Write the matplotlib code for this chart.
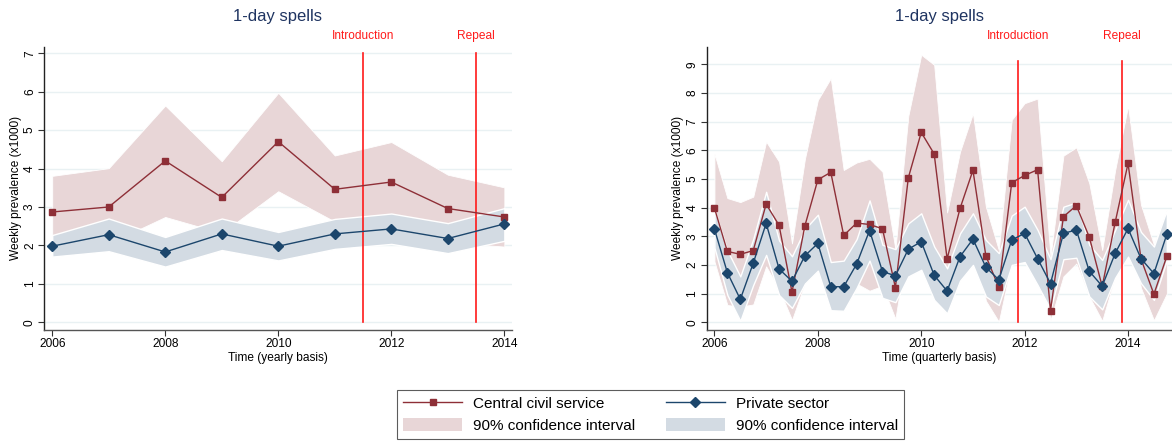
import matplotlib
matplotlib.use("Agg")
import matplotlib.pyplot as plt
from matplotlib.lines import Line2D
from matplotlib.patches import Patch
from matplotlib.transforms import blended_transform_factory

plt.rcParams['font.family'] = ['Liberation Sans', 'DejaVu Sans']

# ---------------- data: yearly panel ----------------
years = [2006, 2007, 2008, 2009, 2010, 2011, 2012, 2013, 2014]
civil_y = [2.87, 3.00, 4.20, 3.25, 4.70, 3.46, 3.65, 2.96, 2.74]
civil_y_hi = [3.81, 4.01, 5.64, 4.19, 5.97, 4.34, 4.69, 3.84, 3.51]
civil_y_lo = [1.93, 2.05, 2.74, 2.32, 3.41, 2.62, 2.61, 2.08, 1.97]
priv_y = [1.98, 2.28, 1.83, 2.30, 1.98, 2.30, 2.43, 2.18, 2.56]
priv_y_hi = [2.27, 2.70, 2.22, 2.70, 2.35, 2.69, 2.83, 2.58, 2.97]
priv_y_lo = [1.71, 1.85, 1.45, 1.88, 1.61, 1.91, 2.04, 1.80, 2.12]

# ---------------- data: quarterly panel ----------------
quarters = [2006.00, 2006.25, 2006.50, 2006.75, 2007.00, 2007.25, 2007.50, 2007.75,
            2008.00, 2008.25, 2008.50, 2008.75, 2009.00, 2009.25, 2009.50, 2009.75,
            2010.00, 2010.25, 2010.50, 2010.75, 2011.00, 2011.25, 2011.50, 2011.75,
            2012.00, 2012.25, 2012.50, 2012.75, 2013.00, 2013.25, 2013.50, 2013.75,
            2014.00, 2014.25, 2014.50, 2014.75]
civil_q = [3.98, 2.47, 2.37, 2.50, 4.12, 3.38, 1.05, 3.37,
           4.97, 5.23, 3.03, 3.46, 3.41, 3.26, 1.21, 5.04,
           6.62, 5.87, 2.21, 3.97, 5.30, 2.31, 1.22, 4.87,
           5.12, 5.32, 0.40, 3.68, 4.07, 2.97, 1.25, 3.48,
           5.54, 2.21, 0.98, 2.30]
civil_q_hi = [5.88, 4.33, 4.19, 4.38, 6.30, 5.60, 2.75, 5.70,
              7.75, 8.51, 5.31, 5.57, 5.70, 5.25, 2.55, 7.20,
              9.33, 8.98, 3.83, 5.95, 7.29, 4.03, 2.52, 7.06,
              7.64, 7.80, 2.30, 5.81, 6.10, 4.85, 2.52, 5.30,
              7.55, 4.10, 2.70, 3.92]
civil_q_lo = [2.12, 0.60, 0.55, 0.62, 1.95, 1.16, 0.08, 1.36,
              2.30, 1.90, 0.90, 1.35, 1.10, 1.27, 0.12, 2.90,
              3.70, 2.60, 0.60, 2.00, 3.30, 0.75, 0.02, 2.10,
              2.50, 2.40, 0.08, 1.60, 2.05, 0.90, 0.05, 1.60,
              3.50, 1.20, 0.07, 1.00]
priv_q = [3.25, 1.73, 0.80, 2.06, 3.45, 1.86, 1.43, 2.32,
          2.75, 1.24, 1.24, 2.03, 3.20, 1.77, 1.62, 2.55,
          2.81, 1.64, 1.09, 2.29, 2.90, 1.92, 1.48, 2.87,
          3.10, 2.22, 1.35, 3.10, 3.22, 1.78, 1.26, 2.40,
          3.27, 2.22, 1.70, 3.07]
priv_q_hi = [3.95, 2.50, 1.60, 2.90, 4.55, 2.85, 2.30, 3.25,
             3.75, 2.10, 2.15, 2.90, 4.25, 2.70, 2.55, 3.45,
             3.80, 2.64, 1.88, 3.10, 3.80, 2.87, 2.41, 3.72,
             4.03, 3.22, 2.20, 4.03, 4.18, 2.70, 2.17, 3.22,
             4.27, 3.15, 2.64, 3.92]
priv_q_lo = [2.60, 0.95, 0.05, 1.30, 2.35, 0.95, 0.50, 1.35,
             1.80, 0.42, 0.40, 1.20, 2.15, 0.85, 0.70, 1.60,
             1.83, 0.78, 0.31, 1.45, 2.00, 0.90, 0.60, 2.00,
             2.10, 1.30, 0.45, 2.20, 2.25, 0.90, 0.45, 1.55,
             2.29, 1.36, 0.78, 2.17]

policy_yearly = [2011.5, 2013.5]
policy_quarterly = [2011.875, 2013.875]
policy_labels = ["Introduction", "Repeal"]

# ---------------- style ----------------
RED = '#8e2f37'
PINK = '#e8d6d7'
BLUE = '#1c466c'
BLUEFILL = '#d3dbe3'
GRID = '#e9f1f3'
TITLE = '#1f3461'
VRED = '#ff1a1a'
FS = 8.6

fig = plt.figure(figsize=(11.72, 4.41), dpi=100)
ax1 = fig.add_axes([44.3 / 1172, 111 / 441, 467.4 / 1172, 283.3 / 441])
ax2 = fig.add_axes([706.7 / 1172, 111 / 441, 465.3 / 1172, 283.3 / 441])


def panel(ax, x, c, chi, clo, p, phi, plo, vlines, vtop, xlabel, yticks, ylim, xlim):
    for yt in yticks:
        ax.axhline(yt, color=GRID, lw=1.0, zorder=0)
    ax.fill_between(x, clo, chi, color=PINK, lw=0.6, edgecolor='white', zorder=1)
    ax.fill_between(x, plo, phi, color=BLUEFILL, lw=1.0, edgecolor='white', zorder=2)
    for vx in vlines:
        ax.plot([vx, vx], [0, vtop], color=VRED, lw=1.2, zorder=3)
    ax.plot(x, c, color=RED, lw=1.0, marker='s', ms=5, mfc=RED, mec=RED, zorder=4)
    ax.plot(x, p, color=BLUE, lw=1.0, marker='D', ms=5, mfc=BLUE, mec=BLUE, zorder=5)
    ax.set_xlim(*xlim)
    ax.set_ylim(*ylim)
    ax.set_yticks(yticks)
    ax.set_xticks([2006, 2008, 2010, 2012, 2014])
    ax.tick_params(axis='both', labelsize=FS, length=4, width=0.8, color='#333333', pad=2)
    for lab in ax.get_yticklabels():
        lab.set_rotation(90)
        lab.set_va('center')
    ax.spines['top'].set_visible(False)
    ax.spines['right'].set_visible(False)
    ax.spines['left'].set_color('#222222')
    ax.spines['bottom'].set_color('#555555')
    ax.spines['left'].set_linewidth(1.0)
    ax.spines['bottom'].set_linewidth(1.0)
    ax.set_xlabel(xlabel, fontsize=FS, labelpad=1)
    ax.set_ylabel("Weekly prevalence (x1000)", fontsize=FS, labelpad=1.5)
    ax.text(0.5, 1.108, "1-day spells", transform=ax.transAxes, ha='center',
            va='center', fontsize=12, color=TITLE)
    tr = blended_transform_factory(ax.transData, ax.transAxes)
    for vx, lab in zip(vlines, policy_labels):
        ax.text(vx, 1.038, lab, transform=tr, ha='center', va='center',
                fontsize=FS, color=VRED)


panel(ax1, years, civil_y, civil_y_hi, civil_y_lo, priv_y, priv_y_hi, priv_y_lo,
      policy_yearly, 7.0, "Time (yearly basis)", list(range(0, 8)),
      (-0.2, 7.17), (2005.86, 2014.13))
panel(ax2, quarters, civil_q, civil_q_hi, civil_q_lo, priv_q, priv_q_hi, priv_q_lo,
      policy_quarterly, 9.1, "Time (quarterly basis)", list(range(0, 10)),
      (-0.27, 9.61), (2005.85, 2014.85))

handles = [
    Line2D([0], [0], color=RED, lw=1.0, marker='s', ms=5),
    Patch(facecolor=PINK, edgecolor='none'),
    Line2D([0], [0], color=BLUE, lw=1.0, marker='D', ms=5),
    Patch(facecolor=BLUEFILL, edgecolor='none'),
]
labels = ["Central civil service", "90% confidence interval",
          "Private sector", "90% confidence interval"]
leg = fig.legend(handles, labels, ncol=2, loc='center',
                 bbox_to_anchor=(650.5 / 1172, (441 - 414.5) / 441),
                 fontsize=11, frameon=True, fancybox=False, edgecolor='#333333',
                 handlelength=3.85, handleheight=0.9, handletextpad=0.72,
                 columnspacing=2.0, labelspacing=0.45, borderpad=0.4,
                 numpoints=1)
leg.get_frame().set_linewidth(0.8)

fig.savefig("out.png", dpi=100)
